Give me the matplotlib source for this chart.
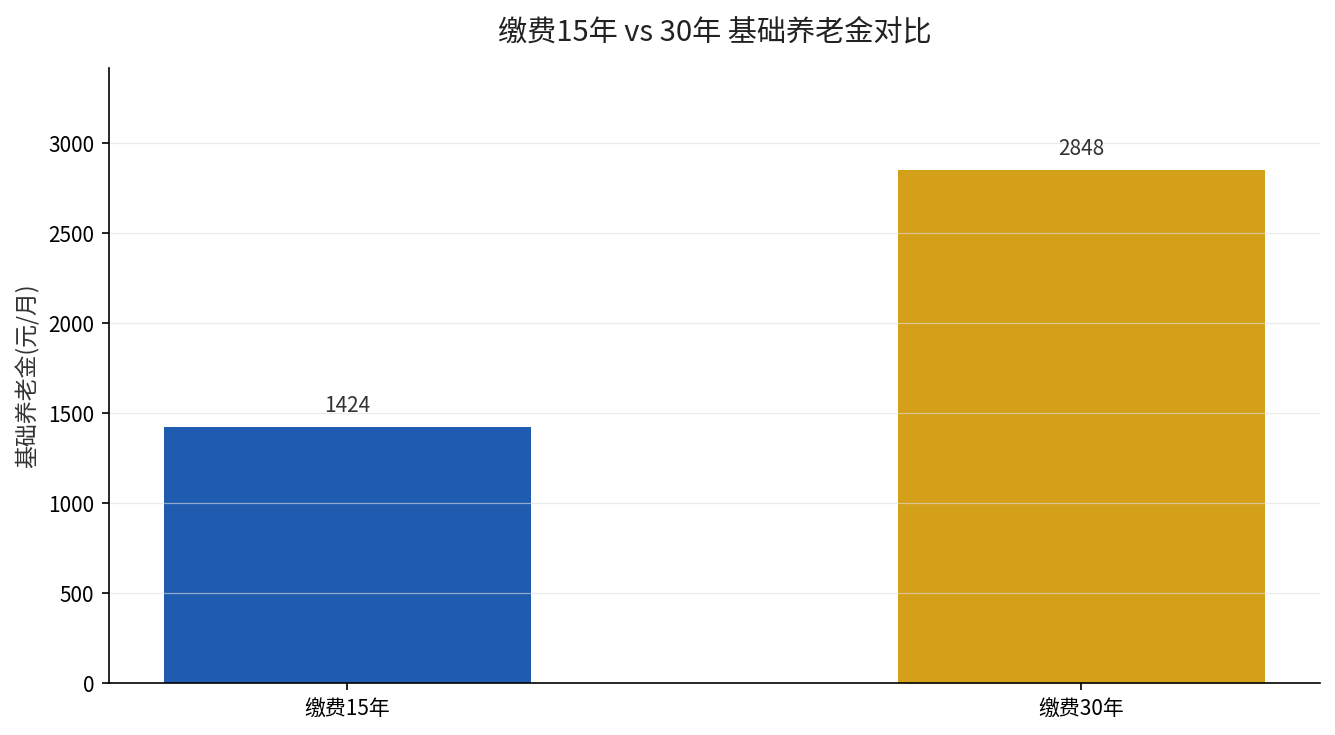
import matplotlib
matplotlib.use('Agg')
import matplotlib.pyplot as plt

plt.rcParams['font.family'] = ['Noto Sans CJK SC', 'DejaVu Sans']
plt.rcParams['axes.unicode_minus'] = False

# 数据
categories = ['缴费15年', '缴费30年']
pensions = [1424, 2848]
colors = ['#1f5baf', '#d4a01a']

fig, ax = plt.subplots(figsize=(8.9, 4.9), dpi=150)
fig.subplots_adjust(left=0.0816, right=0.9888, bottom=0.0707, top=0.9075)

bars = ax.bar(categories, pensions, width=0.5, color=colors)

for b, v in zip(bars, pensions):
    ax.text(b.get_x() + b.get_width() / 2, v + max(pensions) * 0.02, f'{v}',
            ha='center', va='bottom', fontsize=10, color='#333333')

ax.set_ylim(0, max(pensions) * 1.2)
ax.set_title('缴费15年 vs 30年 基础养老金对比', fontsize=14, pad=13, color='#222222')
ax.set_ylabel('基础养老金(元/月)', fontsize=11, color='#333333')
ax.tick_params(labelsize=10)
ax.grid(axis='y', color='#e0e0e0', alpha=0.6, linewidth=0.6)
ax.spines['top'].set_visible(False)
ax.spines['right'].set_visible(False)

fig.savefig('out.png', dpi=150)
